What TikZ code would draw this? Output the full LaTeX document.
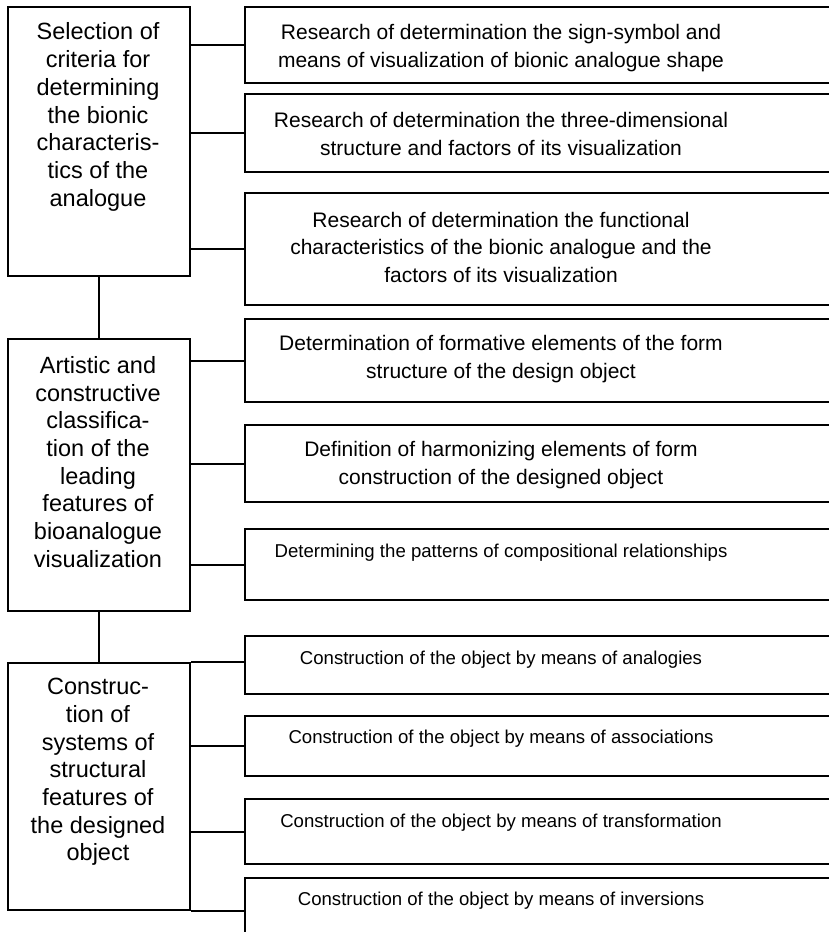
\documentclass[tikz,border=0pt]{standalone}
\usepackage{fontspec}
\setmainfont{Liberation Sans}
\begin{document}
\begin{tikzpicture}[x=1pt,y=-1pt,
  box/.style={draw=black,line width=2pt,rectangle,inner sep=0pt,anchor=north west},
  ltext/.style={align=center,font=\fontsize{23.5}{27.7}\selectfont,inner sep=0pt},
  rtext/.style={align=center,font=\fontsize{21}{27.5}\selectfont,inner sep=0pt},
  stext/.style={align=center,font=\fontsize{18.6}{24}\selectfont,inner sep=0pt},
  link/.style={draw=black,line width=2pt}]
\useasboundingbox (0,0) rectangle (829,932);
\clip (0,0) rectangle (829,932);
\fill[white] (0,0) rectangle (829,932);

% left column: main stages
\node[box,minimum width=182pt,minimum height=269pt] (L1) at (7,6) {};
\node[box,minimum width=182pt,minimum height=272pt] (L2) at (7,338) {};
\node[box,minimum width=182pt,minimum height=247pt] (L3) at (7,662) {};

\node[ltext] (L1t) at (98,117) {Selection of\\criteria for\\determining\\the bionic\\characteris-\\tics of the\\analogue};
\node[ltext] (L2t) at (98,462) {Artistic and\\constructive\\classifica-\\tion of the\\leading\\features of\\bioanalogue\\visualization};
\node[ltext] (L3t) at (98,772) {Construc-\\tion of\\systems of\\structural\\features of\\the designed\\object};

% right column: sub-tasks (running off the right edge)
\node[box,minimum width=606pt,minimum height=76pt]  (R1)  at (244,6)   {};
\node[box,minimum width=606pt,minimum height=78pt]  (R2)  at (244,93)  {};
\node[box,minimum width=606pt,minimum height=112pt] (R3)  at (244,192) {};
\node[box,minimum width=606pt,minimum height=83pt]  (R4)  at (244,318) {};
\node[box,minimum width=606pt,minimum height=77pt]  (R5)  at (244,424) {};
\node[box,minimum width=606pt,minimum height=71pt]  (R6)  at (244,528) {};
\node[box,minimum width=606pt,minimum height=58pt]  (R7)  at (244,635) {};
\node[box,minimum width=606pt,minimum height=60pt]  (R8)  at (244,715) {};
\node[box,minimum width=606pt,minimum height=65pt]  (R9)  at (244,798) {};
\node[box,minimum width=606pt,minimum height=90pt]  (R10) at (244,877) {};

\node[rtext] (R1t) at (501,48)  {Research of determination the sign-symbol and\\means of visualization of bionic analogue shape};
\node[rtext] (R2t) at (501,134) {Research of determination the three-dimensional\\structure and factors of its visualization};
\node[rtext] (R3t) at (501,247) {Research of determination the functional\\characteristics of the bionic analogue and the\\factors of its visualization};
\node[rtext] (R4t) at (501,359) {Determination of formative elements of the form\\structure of the design object};
\node[rtext] (R5t) at (501,465) {Definition of harmonizing elements of form\\construction of the designed object};
\node[stext] (R6t) at (501,553) {Determining the patterns of compositional relationships};
\node[stext] (R7t) at (501,660) {Construction of the object by means of analogies};
\node[stext] (R8t) at (501,739) {Construction of the object by means of associations};
\node[stext] (R9t) at (501,823) {Construction of the object by means of transformation};
\node[stext] (R10t) at (501,901) {Construction of the object by means of inversions};

% connectors between stages
\draw[link] (L1.south) -- (L2.north);
\draw[link] (L2.south) -- (L3.north);

% connectors from stages to sub-tasks
\draw[link] (L1.east |- R1.west) -- (R1.west);
\draw[link] (L1.east |- R2.west) -- (R2.west);
\draw[link] (L1.east |- R3.west) -- (R3.west);
\draw[link] (L2.east |- R4.west) -- (R4.west);
\draw[link] (L2.east |- R5.west) -- (R5.west);
\draw[link] (L2.east |- R6.west) -- (R6.west);
\draw[link] (L3.north east) -- (R7.west |- L3.north east);
\draw[link] (L3.east |- R8.west) -- (R8.west);
\draw[link] (L3.east |- R9.west) -- (R9.west);
\draw[link] (L3.south east) -- (R10.west |- L3.south east);
\end{tikzpicture}
\end{document}
